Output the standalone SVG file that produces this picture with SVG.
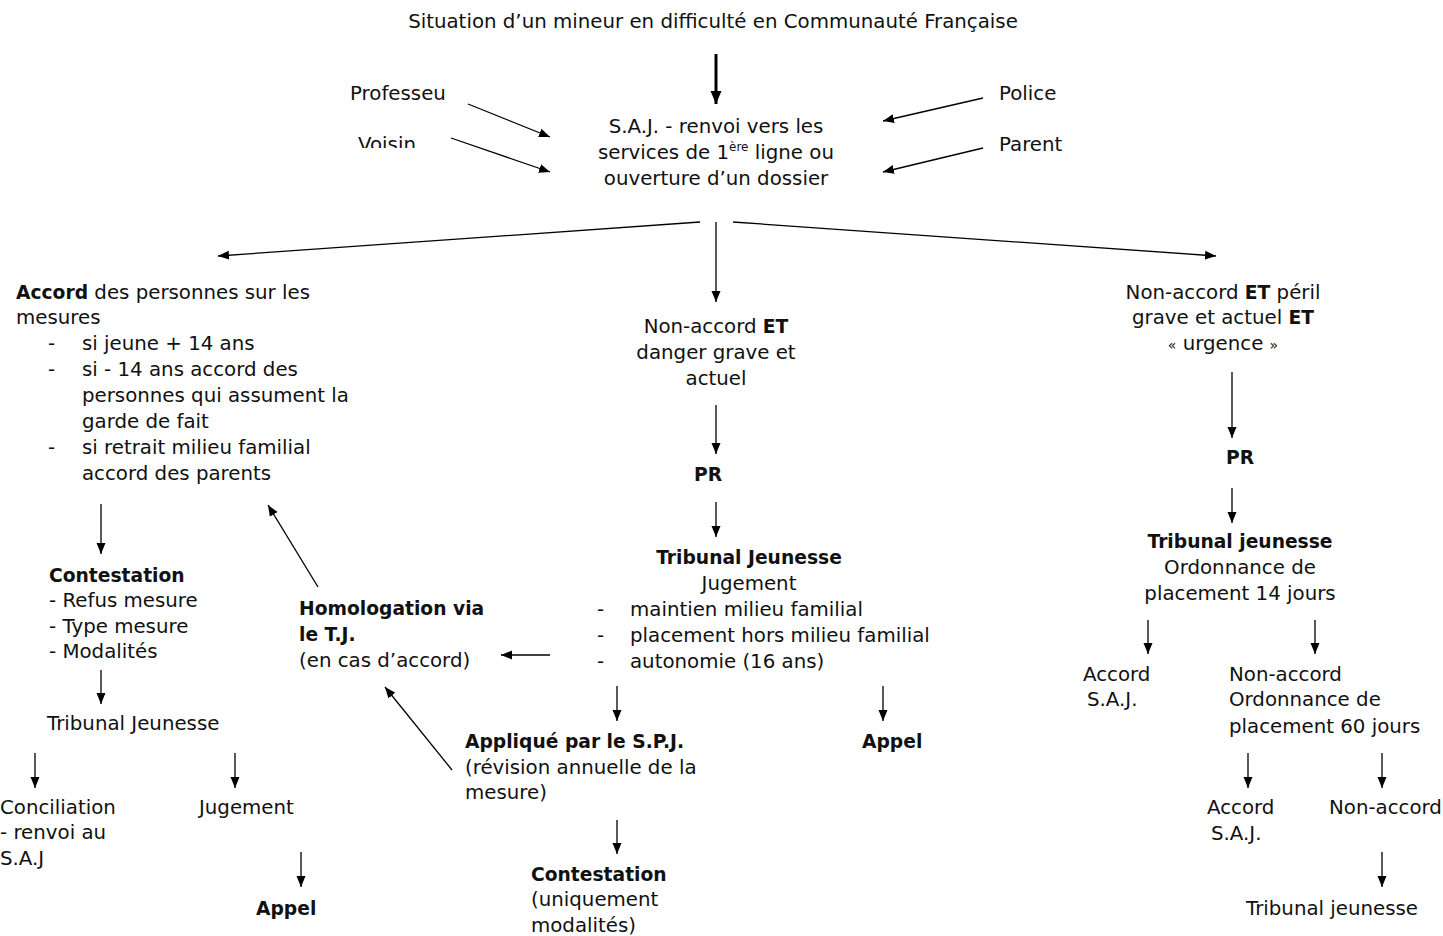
<svg xmlns="http://www.w3.org/2000/svg" width="1443" height="936" viewBox="0 0 1443 936">
<defs>
<marker id="ah" markerUnits="userSpaceOnUse" markerWidth="12" markerHeight="12" viewBox="0 0 12 12" refX="11" refY="6" orient="auto">
<path d="M0,1.5 L11,6 L0,10.5 Z" fill="#000"/>
</marker>
<marker id="ahb" markerUnits="userSpaceOnUse" markerWidth="14" markerHeight="14" viewBox="0 0 14 14" refX="13" refY="7" orient="auto">
<path d="M0,1.5 L13,7 L0,12.5 Z" fill="#000"/>
</marker>
<clipPath id="vclip"><rect x="340" y="120" width="120" height="28"/></clipPath>
</defs>
<style>
text{font-family:"DejaVu Sans","Liberation Sans",sans-serif;font-size:19.8px;fill:#111}
.b{font-weight:bold;font-size:18.7px}
.m{text-anchor:middle}
.c line{stroke:#000;stroke-width:1.3;marker-end:url(#ah)}
.c line.thick{stroke-width:3;marker-end:url(#ahb)}
</style>
<rect width="1443" height="936" fill="#fff"/>
<g class="c" id="connectors">
<line class="thick" x1="716" y1="54" x2="716" y2="104"/>
<line x1="468" y1="104" x2="550" y2="137"/>
<line x1="451" y1="138" x2="550" y2="172"/>
<line x1="983" y1="98" x2="883" y2="121"/>
<line x1="983" y1="148" x2="883" y2="172"/>
<line x1="700" y1="222" x2="218" y2="256"/>
<line x1="716" y1="222" x2="716" y2="302"/>
<line x1="733" y1="222" x2="1216" y2="256"/>
<line x1="716" y1="405" x2="716" y2="454"/>
<line x1="716" y1="502" x2="716" y2="537"/>
<line x1="550" y1="655" x2="501" y2="655"/>
<line x1="318" y1="587" x2="268" y2="505"/>
<line x1="452" y1="770" x2="385" y2="687"/>
<line x1="617" y1="686" x2="617" y2="721"/>
<line x1="883" y1="686" x2="883" y2="721"/>
<line x1="617" y1="820" x2="617" y2="854"/>
<line x1="101" y1="504" x2="101" y2="554"/>
<line x1="101" y1="670" x2="101" y2="704"/>
<line x1="35" y1="753" x2="35" y2="788"/>
<line x1="235" y1="753" x2="235" y2="788"/>
<line x1="301" y1="852" x2="301" y2="887"/>
<line x1="1232" y1="372" x2="1232" y2="438"/>
<line x1="1232" y1="488" x2="1232" y2="523"/>
<line x1="1148" y1="620" x2="1148" y2="654"/>
<line x1="1315" y1="620" x2="1315" y2="654"/>
<line x1="1248" y1="753" x2="1248" y2="788"/>
<line x1="1382" y1="753" x2="1382" y2="788"/>
<line x1="1382" y1="852" x2="1382" y2="887"/>
</g>
<g id="title"><text class="m" x="713" y="28">Situation d’un mineur en difficulté en Communauté Française</text></g>
<g id="professeur"><text x="350" y="100">Professeu</text></g>
<g id="voisin"><text x="358" y="151" clip-path="url(#vclip)">Voisin</text></g>
<g id="police"><text x="999" y="100">Police</text></g>
<g id="parent"><text x="999" y="151">Parent</text></g>
<g id="saj">
<text class="m" x="716" y="133">S.A.J. - renvoi vers les</text>
<text class="m" x="716" y="159">services de 1<tspan font-size="12" dy="-8">ère</tspan><tspan dy="8"> ligne ou</tspan></text>
<text class="m" x="716" y="185">ouverture d’un dossier</text>
</g>
<g id="accord">
<text x="16" y="299"><tspan class="b">Accord</tspan> des personnes sur les</text>
<text x="16" y="324">mesures</text>
<text x="48" y="350">-</text><text x="82" y="350">si jeune + 14 ans</text>
<text x="48" y="376">-</text><text x="82" y="376">si - 14 ans accord des</text>
<text x="82" y="402">personnes qui assument la</text>
<text x="82" y="428">garde de fait</text>
<text x="48" y="454">-</text><text x="82" y="454">si retrait milieu familial</text>
<text x="82" y="480">accord des parents</text>
</g>
<g id="nonaccord-danger">
<text class="m" x="716" y="333">Non-accord <tspan class="b">ET</tspan></text>
<text class="m" x="716" y="359">danger grave et</text>
<text class="m" x="716" y="385">actuel</text>
</g>
<g id="pr-center"><text class="m b" x="708" y="481">PR</text></g>
<g id="tj-center">
<text class="m b" x="749" y="564">Tribunal Jeunesse</text>
<text class="m" x="749" y="590">Jugement</text>
<text x="597" y="616">-</text><text x="630" y="616">maintien milieu familial</text>
<text x="597" y="642">-</text><text x="630" y="642">placement hors milieu familial</text>
<text x="597" y="668">-</text><text x="630" y="668">autonomie (16 ans)</text>
</g>
<g id="homologation">
<text class="b" x="299" y="615">Homologation via</text>
<text class="b" x="299" y="641">le T.J.</text>
<text x="299" y="667">(en cas d’accord)</text>
</g>
<g id="spj">
<text class="b" x="465" y="748">Appliqué par le S.P.J.</text>
<text x="465" y="774">(révision annuelle de la</text>
<text x="465" y="799">mesure)</text>
</g>
<g id="appel-center"><text class="b" x="862" y="748">Appel</text></g>
<g id="contestation-center">
<text class="b" x="531" y="881">Contestation</text>
<text x="531" y="906">(uniquement</text>
<text x="531" y="932">modalités)</text>
</g>
<g id="contestation-left">
<text class="b" x="49" y="582">Contestation</text>
<text x="49" y="607">- Refus mesure</text>
<text x="49" y="633">- Type mesure</text>
<text x="49" y="658">- Modalités</text>
</g>
<g id="tj-left"><text x="47" y="730">Tribunal Jeunesse</text></g>
<g id="conciliation">
<text x="0" y="814">Conciliation</text>
<text x="0" y="839">- renvoi au</text>
<text x="0" y="865">S.A.J</text>
</g>
<g id="jugement-left"><text x="199" y="814">Jugement</text></g>
<g id="appel-left"><text class="b" x="256" y="915">Appel</text></g>
<g id="nonaccord-peril">
<text class="m" x="1223" y="299">Non-accord <tspan class="b">ET</tspan> péril</text>
<text class="m" x="1223" y="324">grave et actuel <tspan class="b">ET</tspan></text>
<text class="m" x="1223" y="350"><tspan font-size="14">«</tspan> urgence <tspan font-size="14">»</tspan></text>
</g>
<g id="pr-right"><text class="m b" x="1240" y="464">PR</text></g>
<g id="tj-right">
<text class="m b" x="1240" y="548">Tribunal jeunesse</text>
<text class="m" x="1240" y="574">Ordonnance de</text>
<text class="m" x="1240" y="600">placement 14 jours</text>
</g>
<g id="accord-saj-1">
<text x="1083" y="681">Accord</text>
<text x="1087" y="706">S.A.J.</text>
</g>
<g id="nonaccord-60">
<text x="1229" y="681">Non-accord</text>
<text x="1229" y="706">Ordonnance de</text>
<text x="1229" y="733">placement 60 jours</text>
</g>
<g id="accord-saj-2">
<text x="1207" y="814">Accord</text>
<text x="1211" y="840">S.A.J.</text>
</g>
<g id="nonaccord-final"><text x="1329" y="814">Non-accord</text></g>
<g id="tj-final"><text x="1246" y="915">Tribunal jeunesse</text></g>
</svg>
